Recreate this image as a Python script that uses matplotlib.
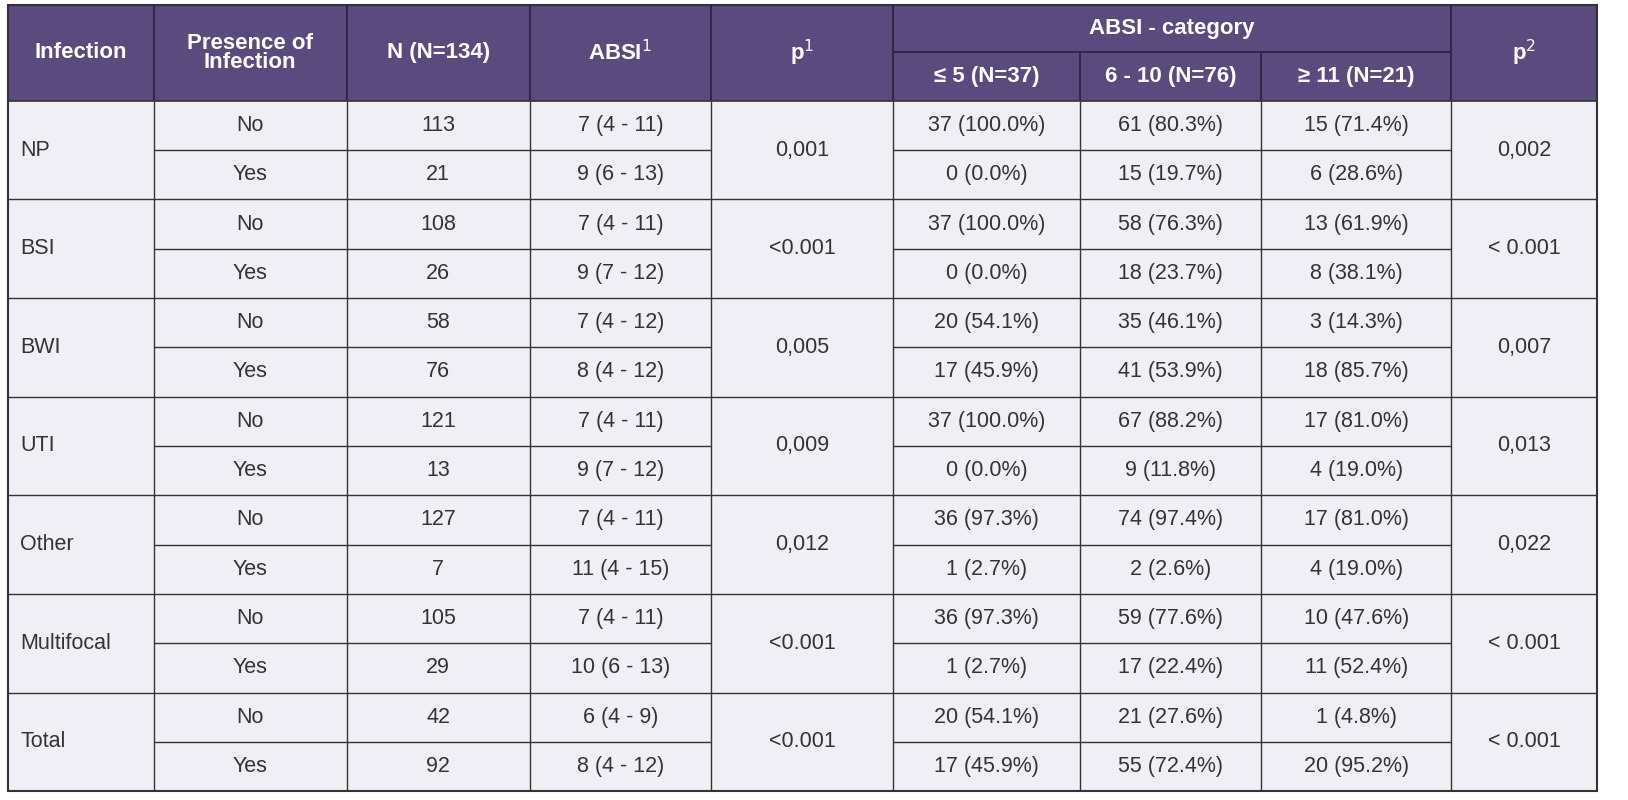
import matplotlib
matplotlib.use("Agg")
import matplotlib.pyplot as plt
from matplotlib.patches import Rectangle

infections = ["NP", "BSI", "BWI", "UTI", "Other", "Multifocal", "Total"]
presence = ["No", "Yes"]
n_vals = [[113, 21], [108, 26], [58, 76], [121, 13], [127, 7], [105, 29], [42, 92]]
absi = [["7 (4 - 11)", "9 (6 - 13)"], ["7 (4 - 11)", "9 (7 - 12)"], ["7 (4 - 12)", "8 (4 - 12)"],
        ["7 (4 - 11)", "9 (7 - 12)"], ["7 (4 - 11)", "11 (4 - 15)"], ["7 (4 - 11)", "10 (6 - 13)"],
        ["6 (4 - 9)", "8 (4 - 12)"]]
p1 = ["0,001", "<0.001", "0,005", "0,009", "0,012", "<0.001", "<0.001"]
cat_le5 = [["37 (100.0%)", "0 (0.0%)"], ["37 (100.0%)", "0 (0.0%)"], ["20 (54.1%)", "17 (45.9%)"],
           ["37 (100.0%)", "0 (0.0%)"], ["36 (97.3%)", "1 (2.7%)"], ["36 (97.3%)", "1 (2.7%)"],
           ["20 (54.1%)", "17 (45.9%)"]]
cat_6_10 = [["61 (80.3%)", "15 (19.7%)"], ["58 (76.3%)", "18 (23.7%)"], ["35 (46.1%)", "41 (53.9%)"],
            ["67 (88.2%)", "9 (11.8%)"], ["74 (97.4%)", "2 (2.6%)"], ["59 (77.6%)", "17 (22.4%)"],
            ["21 (27.6%)", "55 (72.4%)"]]
cat_ge11 = [["15 (71.4%)", "6 (28.6%)"], ["13 (61.9%)", "8 (38.1%)"], ["3 (14.3%)", "18 (85.7%)"],
            ["17 (81.0%)", "4 (19.0%)"], ["17 (81.0%)", "4 (19.0%)"], ["10 (47.6%)", "11 (52.4%)"],
            ["1 (4.8%)", "20 (95.2%)"]]
p2 = ["0,002", "< 0.001", "0,007", "0,013", "0,022", "< 0.001", "< 0.001"]

HDR = "#5b4a7d"
BG = "#f1eff6"
S = 1628 / 1568
xs = [v * S for v in [8, 148, 334, 510, 685, 860, 1040, 1215, 1398, 1538]]
top, mid, hb, bottom = [v * S for v in (5, 50, 97, 762)]
rh = (bottom - hb) / 14

fig = plt.figure(figsize=(16.28, 8), dpi=100)
ax = fig.add_axes([0, 0, 1, 1])
ax.set_xlim(0, 1628); ax.set_ylim(800, 0); ax.axis("off")

hfont = dict(family=["Liberation Sans", "DejaVu Sans"], fontweight="bold", color="white", fontsize=16)
bfont = dict(family=["Liberation Sans", "DejaVu Sans"], color="#333333", fontsize=15.5)

ax.add_patch(Rectangle((xs[0], top), xs[-1]-xs[0], hb-top, facecolor=HDR, edgecolor="none"))
ax.add_patch(Rectangle((xs[0], hb), xs[-1]-xs[0], bottom-hb, facecolor=BG, edgecolor="none"))

def hline(y, x0, x1, c="#333333", lw=1.2):
    ax.plot([x0, x1], [y, y], color=c, lw=lw, solid_capstyle="butt")
def vline(x, y0, y1, c="#333333", lw=1.2):
    ax.plot([x, x], [y0, y1], color=c, lw=lw, solid_capstyle="butt")

hc = (top + hb) / 2
labels = ["Infection", "Presence of\nInfection", "N (N=134)", "ABSI$^1$", "p$^1$"]
for i, l in enumerate(labels):
    ax.text((xs[i]+xs[i+1])/2, hc, l, ha="center", va="center", linespacing=0.9, **hfont)
ax.text((xs[5]+xs[8])/2, (top+mid)/2, "ABSI - category", ha="center", va="center", **hfont)
for i, l in zip([5, 6, 7], ["≤ 5 (N=37)", "6 - 10 (N=76)", "≥ 11 (N=21)"]):
    ax.text((xs[i]+xs[i+1])/2, (mid+hb)/2, l, ha="center", va="center", **hfont)
ax.text((xs[8]+xs[9])/2, hc, "p$^2$", ha="center", va="center", **hfont)
hline(mid, xs[5], xs[8], c="#2a2040")
for x in xs[1:-1]:
    if x in (xs[6], xs[7]):
        vline(x, mid, hb, c="#2a2040")
    else:
        vline(x, top, hb, c="#2a2040")

for g, name in enumerate(infections):
    y0 = hb + 2*g*rh
    ax.text(xs[0]+12, y0+rh, name, ha="left", va="center", **bfont)
    ax.text((xs[4]+xs[5])/2, y0+rh, p1[g], ha="center", va="center", **bfont)
    ax.text((xs[8]+xs[9])/2, y0+rh, p2[g], ha="center", va="center", **bfont)
    for r in range(2):
        yc = y0 + (r+0.5)*rh
        vals = [presence[r], str(n_vals[g][r]), absi[g][r], None, cat_le5[g][r], cat_6_10[g][r], cat_ge11[g][r]]
        for ci, v in zip(range(1, 8), vals):
            if v is None:
                continue
            ax.text((xs[ci]+xs[ci+1])/2, yc, v, ha="center", va="center", **bfont)
    for a, b in [(1, 4), (5, 8)]:
        hline(y0+rh, xs[a], xs[b], lw=1.0)
    if g > 0:
        hline(y0, xs[0], xs[-1], lw=1.0)
for x in xs[1:-1]:
    vline(x, hb, bottom, lw=1.0)

ax.add_patch(Rectangle((xs[0], top), xs[-1]-xs[0], bottom-top, facecolor="none", edgecolor="#333333", lw=1.5))
hline(hb, xs[0], xs[-1], lw=1.2)

fig.savefig("out.png", dpi=100)
